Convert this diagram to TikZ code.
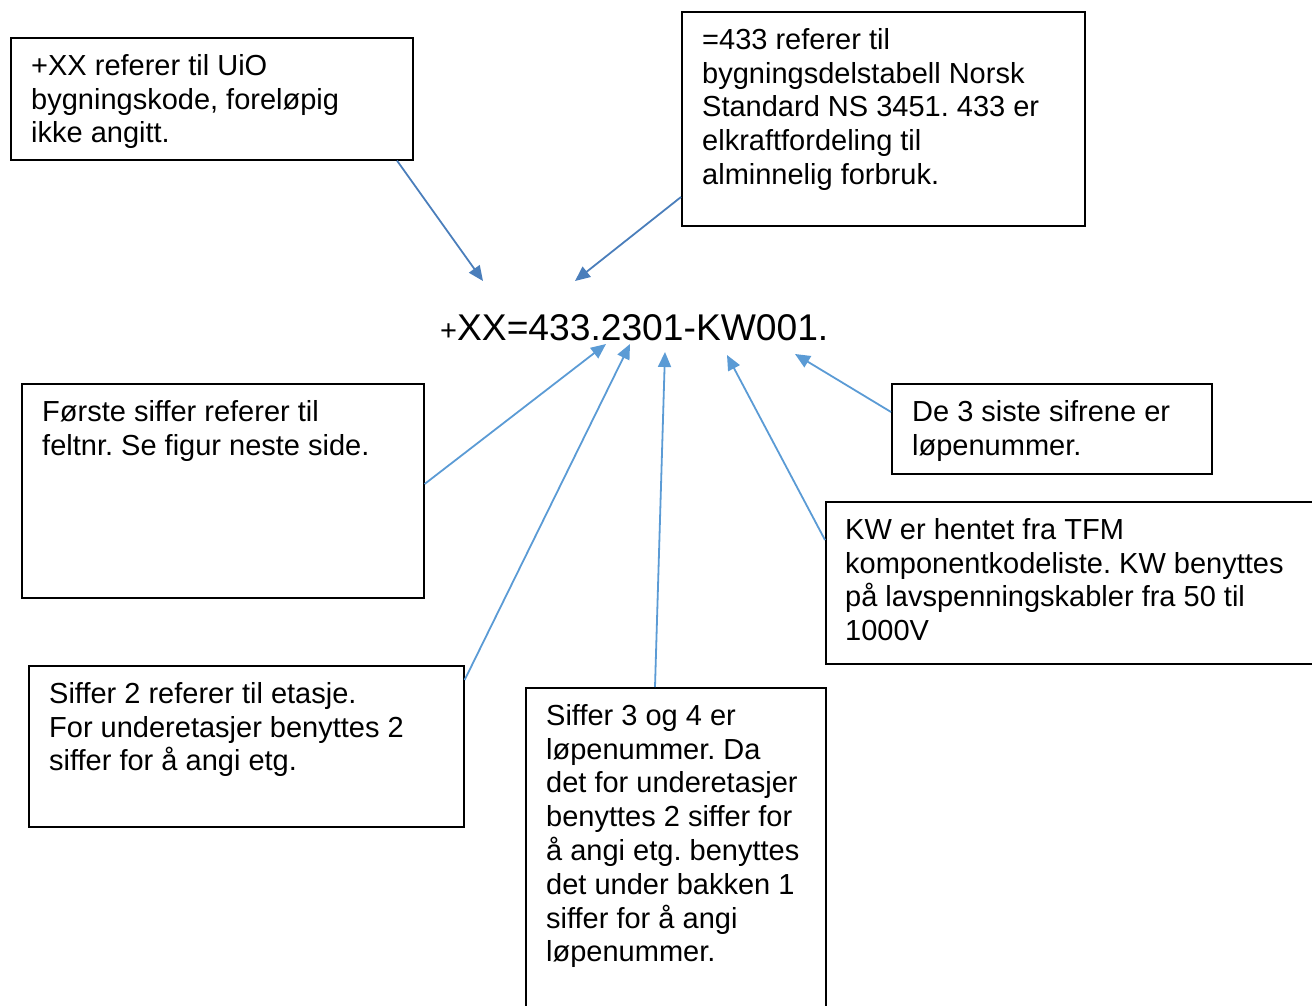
\documentclass[tikz,border=0pt]{standalone}
\usepackage{fontspec}
\setmainfont{Liberation Sans}
\usetikzlibrary{arrows.meta,calc}
\definecolor{arrdark}{HTML}{4A7EBB}
\definecolor{arrlight}{HTML}{5B9BD5}
\frenchspacing
\begin{document}
\begin{tikzpicture}[x=1pt,y=-1pt,
  box/.style={draw=black,line width=1.6pt,anchor=north west,inner sep=0pt},
  txt/.style={anchor=north west,inner sep=0pt,align=left,font=\fontsize{29}{33.8}\selectfont},
  conn/.style={line width=1.8pt,-{Triangle[length=15pt,width=13pt]}},
]
\useasboundingbox (0,0) rectangle (1312,1005);
% boxes
\node[box,minimum width=402pt,minimum height=122pt] (b1) at (10,37) {};
\node[box,minimum width=403pt,minimum height=214pt] (b2) at (681,11) {};
\node[box,minimum width=402pt,minimum height=214pt] (b3) at (21,383) {};
\node[box,minimum width=320pt,minimum height=90pt] (b4) at (891,383) {};
\node[box,minimum width=495pt,minimum height=162pt] (b5) at (825,501) {};
\node[box,minimum width=435pt,minimum height=161pt] (b6) at (28,665) {};
\node[box,minimum width=300pt,minimum height=330pt] (b7) at (525,687) {};
% texts
\node[txt] (t1) at ($(b1.north west)+(21,17)$) {+XX referer til UiO\\bygningskode, foreløpig\\ikke angitt.};
\node[txt] (t2) at ($(b2.north west)+(21,17)$) {=433 referer til\\bygningsdelstabell Norsk\\Standard NS 3451. 433 er\\elkraftfordeling til\\alminnelig forbruk.};
\node[txt] (t3) at ($(b3.north west)+(21,17)$) {Første siffer referer til\\feltnr. Se figur neste side.};
\node[txt] (t4) at ($(b4.north west)+(21,17)$) {De 3 siste sifrene er\\løpenummer.};
\node[txt] (t5) at ($(b5.north west)+(20,17)$) {KW er hentet fra TFM\\komponentkodeliste. KW benyttes\\på lavspenningskabler fra 50 til\\1000V};
\node[txt] (t6) at ($(b6.north west)+(21,17)$) {Siffer 2 referer til etasje.\\For underetasjer benyttes 2\\siffer for å angi etg.};
\node[txt] (t7) at ($(b7.north west)+(21,17)$) {Siffer 3 og 4 er\\løpenummer. Da\\det for underetasjer\\benyttes 2 siffer for\\å angi etg. benyttes\\det under bakken 1\\siffer for å angi\\løpenummer.};
% code
\node[anchor=base west,inner sep=0pt] (code) at (440,340) {{\fontsize{29}{34}\selectfont +}{\fontsize{37.2}{44}\selectfont XX=433.2301-KW001.}};
% arrow targets
\coordinate (p1) at (483,281);
\coordinate (p2) at (575,281);
\coordinate (p3) at (606,344);
\coordinate (p4) at (630,344);
\coordinate (p5) at (665,352);
\coordinate (p6) at (727,355);
\coordinate (p7) at (795,354);
% arrows
\draw[conn,arrdark] ($(b1.south west)+(387,0)$) -- (p1);
\draw[conn,arrdark] ($(b2.north west)+(0,186)$) -- (p2);
\draw[conn,arrlight] ($(b3.north east)+(0,101)$) -- (p3);
\draw[conn,arrlight] ($(b6.north east)+(0,15)$) -- (p4);
\draw[conn,arrlight] ($(b7.north west)+(130,0)$) -- (p5);
\draw[conn,arrlight] ($(b5.north west)+(0,39)$) -- (p6);
\draw[conn,arrlight] ($(b4.north west)+(0,29)$) -- (p7);
\end{tikzpicture}
\end{document}
